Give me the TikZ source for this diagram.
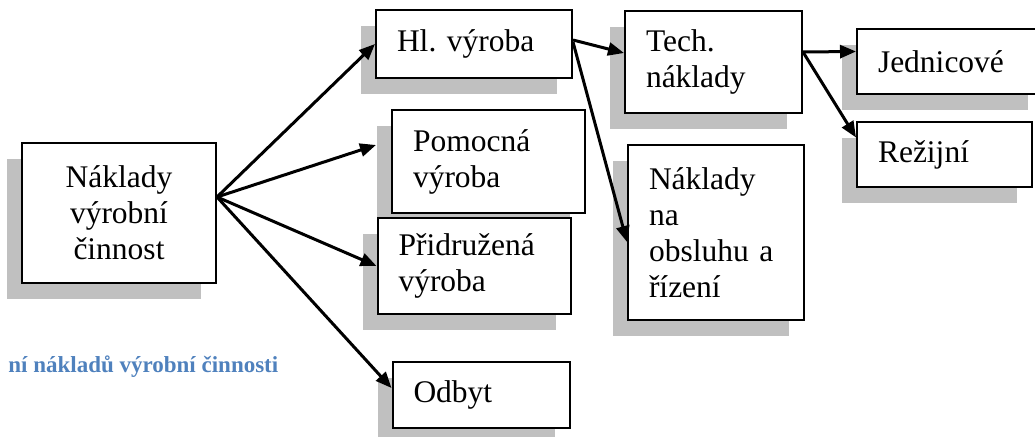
\documentclass[tikz,border=0pt]{standalone}
\usepackage{fontspec}
\setmainfont{Liberation Serif}
\usepackage{tikz}
\usetikzlibrary{arrows.meta,positioning,shadows}
\definecolor{shadowgray}{RGB}{192,192,192}
\definecolor{captionblue}{RGB}{79,129,189}
\frenchspacing

\begin{document}
\begin{tikzpicture}[on grid,
    box/.style={draw, fill=white, line width=1pt, align=left, inner xsep=10.5pt, inner ysep=0pt,
      font=\fontsize{15.75}{18}\selectfont,
      drop shadow={shadow xshift=-7.5pt, shadow yshift=-8pt, fill=shadowgray, opacity=1}},
    arr/.style={line width=1.5pt, -{Triangle[length=8pt,width=6.5pt]}}]
  \useasboundingbox (0,0) rectangle (517.5pt,-218.5pt);
  \node[box, align=center, text width=76pt, minimum height=70pt] (main) at (59.5pt,-106.5pt) {Náklady\\výrobní\\činnost};
  \node[box, text width=77pt, minimum height=34pt, above right=84.5pt and 177.5pt of main] (hl) {Hl. výroba};
  \node[box, text width=75.5pt, minimum height=51.5pt, below right=58.75pt and 7.25pt of hl] (pom) {Pomocná\\výroba};
  \node[box, text width=75.5pt, minimum height=48pt, below=111pt of hl] (prid) {Přidružená\\výroba};
  \node[box, text width=67.5pt, minimum height=33pt, below right=64.5pt and 3.5pt of prid] (odbyt) {Odbyt};
  \node[box, text width=67.5pt, minimum height=51pt, below right=9pt and 119.75pt of hl] (tech) {Tech.\\náklady};
  \node[box, text width=67pt, minimum height=87.5pt, below right=85.25pt and 1.25pt of tech] (obs) {Náklady\\na\\obsluhu~a\\řízení};
  \node[box, text width=72pt, minimum height=32.5pt, right=118.25pt of tech] (jedn) {Jednicové};
  \node[box, text width=66.5pt, minimum height=32.5pt, below left=46.5pt and 2.75pt of jedn] (rez) {Režijní};
  \node[anchor=base west, inner sep=0pt, text=captionblue, font=\bfseries\fontsize{11.5}{13}\selectfont] (caption) at (4pt,-186.5pt) {ní nákladů výrobní činnosti};
  % arrows
  \draw[arr] ([yshift=8pt]main.east) -- (hl.west);
  \draw[arr] ([yshift=8pt]main.east) -- ([shift={(-7.5pt,8.25pt)}]pom.west);
  \draw[arr] ([yshift=8pt]main.east) -- (prid.west);
  \draw[arr] ([yshift=8pt]main.east) -- ([yshift=3.5pt]odbyt.west);
  \draw[arr] ([yshift=2pt]hl.east) -- ([yshift=4.5pt]tech.west);
  \draw[arr] ([yshift=1pt]hl.east) -- ([yshift=-4.75pt]obs.west);
  \draw[arr] ([yshift=5pt]tech.east) -- ([yshift=5.25pt]jedn.west);
  \draw[arr] ([yshift=5pt]tech.east) -- ([yshift=8.75pt]rez.west);
\end{tikzpicture}
\end{document}
